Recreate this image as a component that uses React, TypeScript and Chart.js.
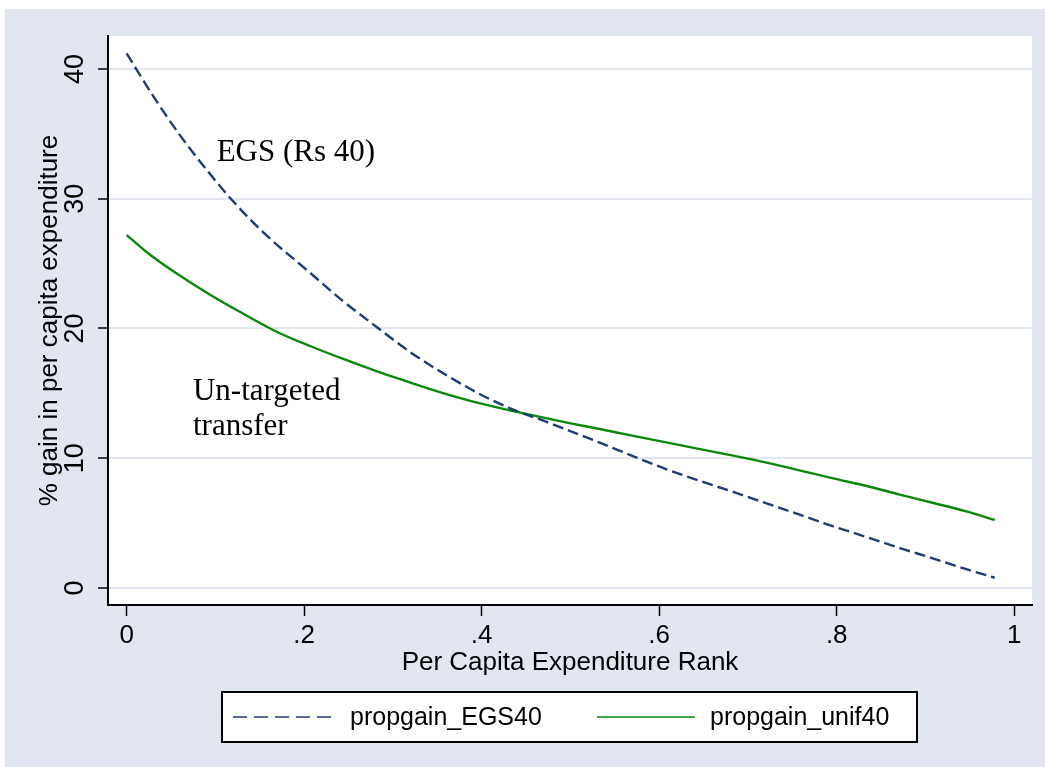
import React, { useEffect, useRef } from "react";
import { Chart, registerables } from "chart.js";

Chart.register(...registerables);

// ---- data ----
const egsRank = [0, 0.03, 0.06, 0.094, 0.12, 0.154, 0.2065, 0.244, 0.282, 0.319, 0.364, 0.402, 0.432, 0.477, 0.533, 0.571, 0.608, 0.646, 0.6835, 0.721, 0.759, 0.796, 0.834, 0.871, 0.909, 0.946, 0.978];
const egsGain = [41.2, 37.9, 34.9, 31.9, 29.8, 27.4, 24.3, 22.1, 20.1, 18.2, 16.25, 14.8, 13.85, 12.7, 11.2, 10.15, 9.15, 8.25, 7.4, 6.52, 5.63, 4.75, 3.92, 3.08, 2.27, 1.45, 0.79];
const unifRank = [0, 0.026, 0.056, 0.094, 0.131, 0.169, 0.2065, 0.244, 0.282, 0.319, 0.3455, 0.383, 0.428, 0.458, 0.496, 0.533, 0.571, 0.608, 0.646, 0.6835, 0.721, 0.759, 0.796, 0.834, 0.871, 0.909, 0.946, 0.978];
const unifGain = [27.2, 25.7, 24.25, 22.6, 21.15, 19.75, 18.65, 17.65, 16.7, 15.85, 15.25, 14.5, 13.75, 13.3, 12.75, 12.25, 11.72, 11.22, 10.7, 10.2, 9.66, 9.05, 8.45, 7.86, 7.2, 6.55, 5.9, 5.24];
const seriesNames = ["propgain_EGS40", "propgain_unif40"];
const xTickValues = [0, 0.2, 0.4, 0.6, 0.8, 1];
const yTickValues = [0, 10, 20, 30, 40];
const xTitle = "Per Capita Expenditure Rank";
const yTitle = "% gain in per capita expenditure";
const noteText = ["EGS (Rs 40)", "Un-targeted", "transfer"];
const noteX = [0.1014, 0.0747, 0.0747];
const noteY = [32.9, 14.49, 11.79];

const BG = "#e1e6f0";
const NAVY = "#1f3c74";
const GREEN = "#0b870b";
const SANS = '"Liberation Sans", Arial, sans-serif';
const SERIF = '"Liberation Serif", "Times New Roman", serif';

const fmtX = (v: number) => {
  if (v === 0) return "0";
  if (v === 1) return "1";
  return String(Math.round(v * 10) / 10).replace(/^0\./, ".");
};

const bgPlugin = {
  id: "stataBg",
  beforeDraw(chart: any) {
    const { ctx, chartArea } = chart;
    ctx.save();
    ctx.fillStyle = BG;
    ctx.fillRect(5, 9, chart.width - 5, chart.height - 9);
    ctx.fillStyle = "#ffffff";
    ctx.fillRect(chartArea.left, chartArea.top, chartArea.right - chartArea.left, chartArea.bottom - chartArea.top);
    ctx.restore();
  },
};

const notesPlugin = {
  id: "notes",
  afterDatasetsDraw(chart: any) {
    const { ctx, scales } = chart;
    ctx.save();
    ctx.fillStyle = "#000";
    ctx.font = `31px ${SERIF}`;
    ctx.textAlign = "left";
    ctx.textBaseline = "alphabetic";
    noteText.forEach((t, i) => {
      ctx.fillText(t, scales.x.getPixelForValue(noteX[i]), scales.y.getPixelForValue(noteY[i]));
    });
    ctx.restore();
  },
};

const legendPlugin = {
  id: "boxLegend",
  afterDraw(chart: any) {
    const { ctx } = chart;
    const ds = chart.data.datasets;
    ctx.save();
    ctx.fillStyle = "#fff";
    ctx.fillRect(222, 692, 695, 50);
    ctx.strokeStyle = "#000";
    ctx.lineWidth = 2;
    ctx.strokeRect(222, 692, 695, 50);
    const items = [
      { x0: 233, x1: 333, tx: 350 },
      { x0: 597, x1: 695, tx: 710 },
    ];
    items.forEach((it, i) => {
      ctx.beginPath();
      ctx.strokeStyle = ds[i].borderColor;
      ctx.lineWidth = 1.6;
      ctx.setLineDash(i === 0 ? [14, 7] : []);
      ctx.moveTo(it.x0, 717);
      ctx.lineTo(it.x1, 717);
      ctx.stroke();
      ctx.setLineDash([]);
      ctx.fillStyle = "#000";
      ctx.font = `25px ${SANS}`;
      ctx.textBaseline = "alphabetic";
      ctx.textAlign = "left";
      ctx.fillText(ds[i].label, it.tx, 725);
    });
    ctx.restore();
  },
};

export default function App() {
  const ref = useRef<HTMLCanvasElement | null>(null);
  useEffect(() => {
    document.body.style.margin = "0";
    const canvas = ref.current!;
    const chart = new Chart(canvas, {
      type: "line",
      data: {
        datasets: [
          {
            label: seriesNames[0],
            data: egsRank.map((x, i) => ({ x, y: egsGain[i] })),
            borderColor: NAVY,
            borderWidth: 2.4,
            borderDash: [11, 5],
            pointRadius: 0,
            fill: false,
            cubicInterpolationMode: "monotone",
          },
          {
            label: seriesNames[1],
            data: unifRank.map((x, i) => ({ x, y: unifGain[i] })),
            borderColor: GREEN,
            borderWidth: 2.4,
            pointRadius: 0,
            fill: false,
            cubicInterpolationMode: "monotone",
          },
        ],
      },
      options: {
        animation: false,
        responsive: false,
        devicePixelRatio: 1,
        layout: { padding: { left: 0, top: 36, right: 13, bottom: 87 } },
        plugins: { legend: { display: false }, tooltip: { enabled: false } },
        scales: {
          x: {
            type: "linear",
            min: -0.021,
            max: 1.02,
            afterFit: (s: any) => { s.height = 75; },
            afterBuildTicks: (s: any) => { s.ticks = xTickValues.map((v) => ({ value: v })); },
            grid: { drawOnChartArea: false, drawTicks: true, tickLength: 11, tickColor: "#000", tickWidth: 1.5 },
            border: { display: true, color: "#000", width: 2 },
            ticks: {
              color: "#000",
              font: { family: SANS, size: 26 },
              padding: 4,
              maxRotation: 0,
              minRotation: 0,
              callback: (v: any) => fmtX(Number(v)),
            },
            title: { display: true, text: xTitle, color: "#000", font: { family: SANS, size: 26 }, padding: { top: 0, bottom: 2 } },
          },
          y: {
            type: "linear",
            min: -1.31,
            max: 42.54,
            afterFit: (s: any) => { s.width = 108; },
            afterBuildTicks: (s: any) => { s.ticks = yTickValues.map((v) => ({ value: v })); },
            grid: { color: BG, lineWidth: 2, drawTicks: true, tickLength: 10, tickColor: "#000", tickWidth: 1.5 },
            border: { display: true, color: "#000", width: 2 },
            ticks: {
              color: "#000",
              font: { family: SANS, size: 27 },
              padding: 7,
              minRotation: 90,
              maxRotation: 90,
              crossAlign: "center",
              callback: (v: any) => String(v),
            },
            title: { display: true, text: yTitle, color: "#000", font: { family: SANS, size: 26 }, padding: { top: 34, bottom: 0 } },
          },
        },
      } as any,
      plugins: [bgPlugin, notesPlugin, legendPlugin],
    });
    return () => chart.destroy();
  }, []);
  return (
    <div style={{ width: 1045, height: 767, position: "relative" }}>
      <canvas ref={ref} width={1045} height={767} style={{ display: "block" }} />
    </div>
  );
}
